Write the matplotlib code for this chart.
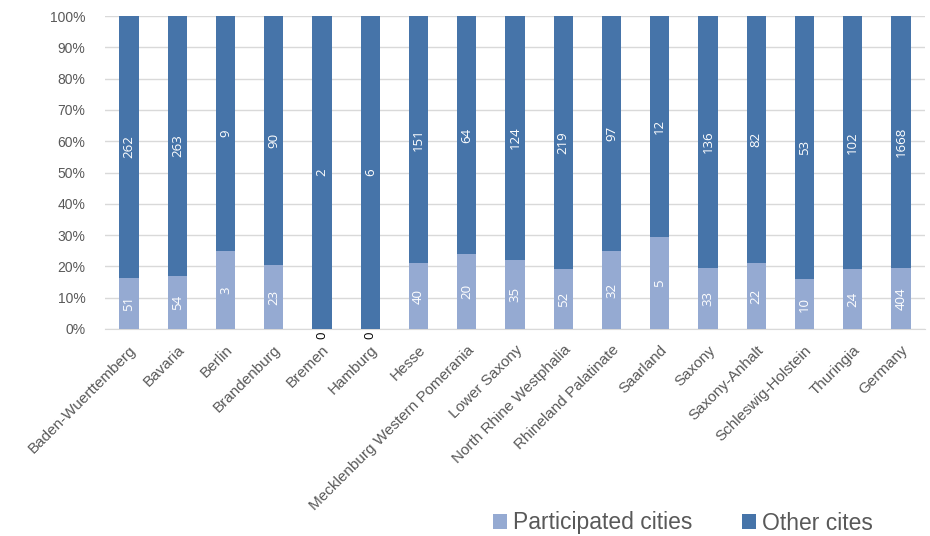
import matplotlib
matplotlib.use("Agg")
import matplotlib.pyplot as plt
import numpy as np

states = ["Baden-Wuerttemberg", "Bavaria", "Berlin", "Brandenburg", "Bremen", "Hamburg",
          "Hesse", "Mecklenburg Western Pomerania", "Lower Saxony", "North Rhine Westphalia",
          "Rhineland Palatinate", "Saarland", "Saxony", "Saxony-Anhalt", "Schleswig-Holstein",
          "Thuringia", "Germany"]
participated = [51, 54, 3, 23, 0, 0, 40, 20, 35, 52, 32, 5, 33, 22, 10, 24, 404]
other = [262, 263, 9, 90, 2, 6, 151, 64, 124, 219, 97, 12, 136, 82, 53, 102, 1668]
y_ticks = [0, 10, 20, 30, 40, 50, 60, 70, 80, 90, 100]

LIGHT = "#95AAD2"
DARK = "#4674A9"
GREY = "#595959"

p = np.array(participated, dtype=float)
o = np.array(other, dtype=float)
tot = p + o
p_share = p / tot * 100
o_share = o / tot * 100

fig = plt.figure(figsize=(9.3, 5.36), dpi=100)
ax = fig.add_axes([105 / 930, 1 - 329 / 536, 820 / 930, 313 / 536])

x = np.arange(len(states))
w = 0.4
b1 = ax.bar(x, p_share, w, color=LIGHT, label="Participated cities", zorder=3)
b2 = ax.bar(x, o_share, w, bottom=p_share, color=DARK, label="Other cites", zorder=3)

lab_font = dict(family=["Open Sans", "DejaVu Sans"], fontsize=9.5)
for i in range(len(states)):
    if p[i] > 0:
        ax.text(x[i], p_share[i] / 2, f"{participated[i]}", rotation=90, ha="center",
                va="center", color="white", zorder=4, **lab_font)
    else:
        ax.annotate(f"{participated[i]}", (x[i], 0), xytext=(0, -2), textcoords="offset points",
                    rotation=90, ha="center", va="top", color="black", zorder=4,
                    annotation_clip=False, **lab_font)
    ax.text(x[i], p_share[i] + o_share[i] / 2, f"{other[i]}", rotation=90, ha="center",
            va="center", color="white", zorder=4, **lab_font)

ax.set_xlim(-0.5, len(states) - 0.5)
ax.set_ylim(0, 100)
ax.set_yticks(y_ticks)
ax.set_yticklabels([f"{t}%" for t in y_ticks], family="Liberation Sans", fontsize=10, color=GREY)
ax.set_xticks(x)
ax.set_xticklabels(states, rotation=45, ha="right", rotation_mode="anchor",
                   family="Liberation Sans", fontsize=11, color=GREY)
ax.tick_params(axis="both", length=0)
ax.tick_params(axis="x", pad=10)
ax.tick_params(axis="y", pad=14)
ax.grid(axis="y", color="#D9D9D9", linewidth=1, zorder=0)
for s in ["top", "right", "left"]:
    ax.spines[s].set_visible(False)
ax.spines["bottom"].set_color("#D9D9D9")

fig.legend(handles=[b1, b2], loc="center", bbox_to_anchor=(683 / 930, 1 - 523 / 536), ncol=2,
           frameon=False, prop={"family": "Liberation Sans", "size": 16.5}, handlelength=0.6,
           handleheight=0.6, handletextpad=0.25, columnspacing=2.2, labelcolor=GREY)

fig.savefig("out.png", dpi=100)
